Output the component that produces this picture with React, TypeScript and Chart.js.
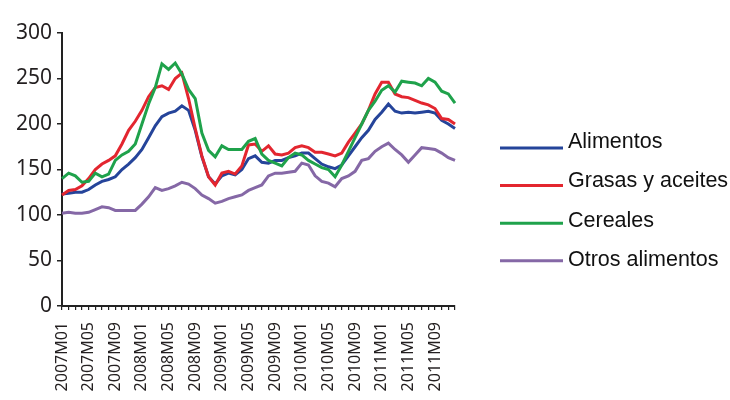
import React, { useEffect, useRef } from "react";
import { Chart, registerables } from "chart.js";

Chart.register(...registerables);

const years = ["2007", "2008", "2009", "2010", "2011"];
const months = ["01", "02", "03", "04", "05", "06", "07", "08", "09", "10", "11", "12"];
const categories: string[] = [];
years.forEach((y) => months.forEach((m) => categories.push(`${y}M${m}`)));

const seriesNames = ["Alimentos", "Grasas y aceites", "Cereales", "Otros alimentos"];
const seriesColors = ["#25449a", "#e3262f", "#1fa24b", "#8568a6"];

const alimentos = [
  123, 124, 125, 125, 128, 133, 137, 139, 142, 150, 156, 163,
  172, 185, 198, 208, 212, 214, 220, 215, 193, 164, 142, 134,
  143, 146, 144, 150, 162, 165, 158, 157, 160, 160, 163, 165,
  168, 168, 162, 156, 153, 151, 155, 165, 175, 185, 193, 205,
  213, 222, 214, 212, 213, 212, 213, 214, 212, 204, 200, 195,
];
const grasas = [
  122, 127, 128, 132, 140, 150, 156, 160, 165, 178, 193, 203,
  215, 230, 240, 242, 238, 250, 256, 228, 195, 165, 142, 133,
  146, 148, 145, 154, 177, 178, 170, 176, 167, 166, 168, 174,
  176, 174, 169, 169, 167, 165, 168, 180, 190, 200, 215, 233,
  246, 246, 233, 230, 229, 226, 223, 221, 217, 206, 205, 200,
];
const cereales = [
  140, 146, 143, 136, 137, 146, 142, 145, 160, 166, 170, 178,
  200, 222, 240, 266, 260, 267, 255, 238, 228, 190, 171, 164,
  176, 172, 172, 172, 181, 184, 167, 160, 157, 154, 163, 168,
  166, 160, 156, 152, 150, 142, 155, 170, 185, 200, 215, 225,
  237, 242, 235, 247, 246, 245, 242, 250, 246, 236, 233, 223,
];
const otros = [
  102, 103, 102, 102, 103, 106, 109, 108, 105, 105, 105, 105,
  112, 120, 130, 127, 129, 132, 136, 134, 129, 122, 118, 113,
  115, 118, 120, 122, 127, 130, 133, 143, 146, 146, 147, 148,
  157, 155, 143, 137, 135, 131, 140, 143, 148, 160, 162, 170,
  175, 179, 172, 166, 158, 166, 174, 173, 172, 168, 163, 160,
];
const seriesValues = [alimentos, grasas, cereales, otros];
const drawOrder = [3, 2, 1, 4];

const yTicks = [0, 50, 100, 150, 200, 250, 300];

const TEXT = "#231f20";
const FONT = "'Noto Sans', sans-serif";

const legendPlugin = {
  id: "sideLegend",
  afterDraw(chart: any) {
    const ctx = chart.ctx as CanvasRenderingContext2D;
    const ds = chart.data.datasets;
    ctx.save();
    ds.forEach((d: any, k: number) => {
      const ly = 148 + 37.6 * k;
      const ty = 142 + 39.3 * k;
      ctx.strokeStyle = d.borderColor;
      ctx.lineWidth = 3;
      ctx.beginPath();
      ctx.moveTo(500, ly);
      ctx.lineTo(563, ly);
      ctx.stroke();
      ctx.fillStyle = "#111";
      ctx.font = "21.5px 'Liberation Sans', Arial, sans-serif";
      ctx.textBaseline = "middle";
      ctx.textAlign = "left";
      ctx.fillText(d.label, 568, ty);
    });
    ctx.restore();
  },
};

export default function App() {
  const ref = useRef<HTMLCanvasElement | null>(null);

  useEffect(() => {
    document.body.style.margin = "0";
    if (!ref.current) return;
    const chart = new Chart(ref.current, {
      type: "line",
      data: {
        labels: categories,
        datasets: seriesNames.map((name, k) => ({
          label: name,
          data: seriesValues[k],
          borderColor: seriesColors[k],
          backgroundColor: seriesColors[k],
          borderWidth: 3,
          pointRadius: 0,
          tension: 0,
          fill: false,
          order: drawOrder[k],
        })),
      },
      options: {
        animation: false,
        responsive: false,
        maintainAspectRatio: false,
        layout: { padding: { left: 0, right: 275, top: 33, bottom: 0 } },
        plugins: {
          legend: { display: false },
          tooltip: { enabled: false },
        },
        scales: {
          x: {
            type: "category",
            offset: false,
            afterFit: (s: any) => {
              s.height = 94;
            },
            grid: {
              display: true,
              drawOnChartArea: false,
              drawTicks: true,
              tickLength: 4,
              color: "#222",
              lineWidth: 1.2,
            },
            border: { display: true, color: "#222", width: 2 },
            ticks: {
              autoSkip: false,
              maxRotation: 90,
              minRotation: 90,
              padding: 12,
              color: TEXT,
              font: { family: FONT, size: 16 },
              callback: (_v: any, i: number) => (i % 4 === 0 ? categories[i] : ""),
            },
          },
          y: {
            min: yTicks[0],
            max: yTicks[yTicks.length - 1],
            afterFit: (s: any) => {
              s.width = 62;
            },
            afterBuildTicks: (s: any) => {
              s.ticks = yTicks.map((v) => ({ value: v }));
            },
            grid: {
              display: true,
              drawOnChartArea: false,
              drawTicks: true,
              tickLength: 5,
              color: "#222",
              lineWidth: 1.5,
            },
            border: { display: true, color: "#222", width: 2 },
            ticks: {
              padding: 5,
              color: TEXT,
              font: { family: FONT, size: 21 },
            },
          },
        },
      },
      plugins: [legendPlugin],
    });
    return () => chart.destroy();
  }, []);

  return (
    <div style={{ position: "absolute", left: 0, top: 0, width: 730, height: 400, background: "#fff" }}>
      <canvas ref={ref} width={730} height={400} />
    </div>
  );
}
